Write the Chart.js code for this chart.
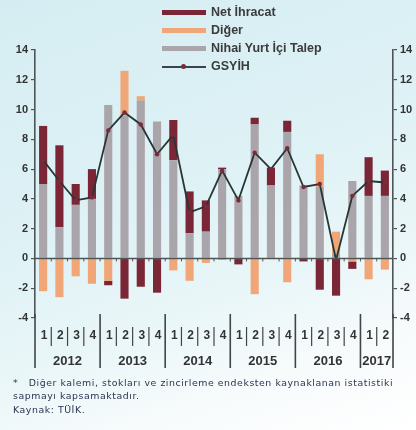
<!DOCTYPE html>
<html lang="tr">
<head>
<meta charset="utf-8">
<title>GSYİH büyümesine katkılar</title>
<script src="https://cdn.jsdelivr.net/npm/chart.js@4.4.1/dist/chart.umd.min.js"></script>
<style>
  html, body { margin: 0; padding: 0; }
  body {
    width: 416px; height: 430px; overflow: hidden; position: relative;
    background: linear-gradient(160deg, #d5edf2 0%, #dff2f6 45%, #e9f6f8 65%, #f7fbfc 82%, #ffffff 100%);
    font-family: "Liberation Sans", Arial, sans-serif;
  }
  #wrap { position: absolute; left: 0; top: 0; width: 416px; height: 430px; }
  .legend { position: absolute; left: 162px; top: 4px; }
  .legend .row { position: relative; height: 18px; }
  .legend .sw { position: absolute; left: 0; top: 6px; width: 44px; height: 5px; }
  .legend .ln { position: absolute; left: 0; top: 8px; width: 44px; height: 1.5px; background: #3a4646; }
  .legend .dot { position: absolute; left: 19px; top: 6px; width: 5px; height: 5px; border-radius: 50%; background: #7c2a3a; }
  .legend .tx { position: absolute; left: 49px; top: 1px; white-space: nowrap;
    font: bold 12.5px "Liberation Sans", Arial, sans-serif; color: #3b3b3b; }
  .note { position: absolute; left: 13px; width: 400px; white-space: nowrap;
    font: 9.4px "DejaVu Sans", sans-serif; letter-spacing: 0.55px; color: #2b3550; }
</style>
</head>
<body>
<div id="wrap"><canvas id="c" width="416" height="430"></canvas></div>

<div class="legend">
  <div class="row"><div class="sw" style="background:#7b2636"></div><div class="tx">Net İhracat</div></div>
  <div class="row"><div class="sw" style="background:#f1a677"></div><div class="tx">Diğer</div></div>
  <div class="row"><div class="sw" style="background:#aaa5aa"></div><div class="tx">Nihai Yurt İçi Talep</div></div>
  <div class="row"><div class="ln"></div><div class="dot"></div><div class="tx">GSYİH</div></div>
</div>

<div class="note" style="top:377px">*&nbsp;&nbsp; Diğer kalemi, stokları ve zincirleme endeksten kaynaklanan istatistiki</div>
<div class="note" style="top:390px">sapmayı kapsamaktadır.</div>
<div class="note" style="top:404px">Kaynak: TÜİK.</div>

<script>
// Quarters 2012 Q1 – 2017 Q2
const quarters = ['1','2','3','4','1','2','3','4','1','2','3','4','1','2','3','4','1','2','3','4','1','2'];
const years = ['2012','2013','2014','2015','2016','2017'];
const yTicks = [-4, -2, 0, 2, 4, 6, 8, 10, 12, 14];

// Contributions to annual GDP growth, percentage points
const nihaiYurtIciTalep = [5.0, 2.1, 3.6, 4.0, 10.3, 9.6, 10.6, 9.2, 6.6, 1.7, 1.8, 6.0, 4.2, 9.0, 4.9, 8.5, 4.9, 4.8, 0.3, 5.2, 4.2, 4.2];
const diger            = [-2.2, -2.6, -1.2, -1.7, -1.5, 3.0, 0.3, 0.0, -0.8, -1.5, -0.3, -0.1, 0.0, -2.4, 0.0, -1.6, 0.0, 2.2, 1.5, -0.2, -1.4, -0.75];
const netIhracat       = [3.9, 5.5, 1.4, 2.0, -0.3, -2.7, -1.9, -2.3, 2.7, 2.8, 2.1, 0.1, -0.4, 0.45, 1.2, 0.75, -0.2, -2.1, -2.5, -0.5, 2.6, 1.7];
// Annual GDP growth, %
const gsyih            = [6.6, 5.2, 3.9, 4.1, 8.6, 9.8, 9.0, 7.0, 8.3, 3.1, 3.5, 5.9, 3.9, 7.1, 6.0, 7.4, 4.8, 5.0, -0.1, 4.2, 5.2, 5.1];

const INK = '#333333';
const AXIS = '#4d5557';

// Zero line, quarter / year labels and separators under the plot
const axisDecor = {
  id: 'axisDecor',
  afterDatasetsDraw(chart) {
    const ctx = chart.ctx;
    const xs = chart.scales.x;
    const ys = chart.scales.y;
    const y0 = ys.getPixelForValue(0);
    const bottom = chart.chartArea.bottom;
    const left = chart.chartArea.left, right = chart.chartArea.right;
    ctx.save();
    // zero line with small boundary ticks
    ctx.strokeStyle = AXIS;
    ctx.lineWidth = 1.4;
    ctx.beginPath(); ctx.moveTo(left, y0); ctx.lineTo(right, y0); ctx.stroke();
    ctx.lineWidth = 1;
    for (let i = 1; i < quarters.length; i++) {
      const bx = (xs.getPixelForValue(i - 1) + xs.getPixelForValue(i)) / 2;
      ctx.beginPath(); ctx.moveTo(bx, y0); ctx.lineTo(bx, y0 + 3); ctx.stroke();
    }
    // separators
    ctx.strokeStyle = '#3f4648';
    const longTop = bottom - 4, longBot = bottom + 50;
    const shortTop = bottom + 9, shortBot = bottom + 28;
    ctx.lineWidth = 1.6;
    [left, right].forEach(x => { ctx.beginPath(); ctx.moveTo(x, longTop); ctx.lineTo(x, longBot); ctx.stroke(); });
    for (let i = 1; i < quarters.length; i++) {
      const bx = (xs.getPixelForValue(i - 1) + xs.getPixelForValue(i)) / 2;
      ctx.beginPath();
      if (i % 4 === 0) { ctx.lineWidth = 1.6; ctx.moveTo(bx, longTop); ctx.lineTo(bx, longBot); }
      else { ctx.lineWidth = 1.2; ctx.moveTo(bx, shortTop); ctx.lineTo(bx, shortBot); }
      ctx.stroke();
    }
    // quarter labels
    ctx.fillStyle = INK;
    ctx.textAlign = 'center';
    ctx.textBaseline = 'middle';
    ctx.font = 'bold 12px "Liberation Sans", Arial, sans-serif';
    quarters.forEach((q, i) => ctx.fillText(q, xs.getPixelForValue(i) + 1, bottom + 18));
    // year labels
    ctx.font = 'bold 13px "Liberation Sans", Arial, sans-serif';
    years.forEach((yr, k) => {
      const first = k * 4, last = Math.min(first + 3, quarters.length - 1);
      const cx = (xs.getPixelForValue(first) + xs.getPixelForValue(last)) / 2;
      ctx.fillText(yr, cx, bottom + 43);
    });
    ctx.restore();
  }
};

const yScaleBase = (pos, width) => ({
  position: pos,
  min: -4, max: 14,
  afterFit(s) { s.width = width; },
  afterBuildTicks(s) { s.ticks = yTicks.map(v => ({ value: v })); },
  grid: { drawOnChartArea: false, drawTicks: true, tickLength: 4, color: AXIS, lineWidth: 1.2 },
  border: { display: true, color: AXIS, width: 1.6 },
  ticks: { padding: 3, color: INK, font: { family: '"Liberation Sans", Arial, sans-serif', size: 11, weight: 'bold' } }
});

new Chart(document.getElementById('c'), {
  data: {
    labels: quarters,
    datasets: [
      { type: 'line', label: 'GSYİH', data: gsyih, stack: 'gdp', order: 0,
        borderColor: '#283636', borderWidth: 1.8, tension: 0,
        pointRadius: 2.2, pointBackgroundColor: '#7c2a3a', pointBorderColor: '#7c2a3a', pointBorderWidth: 0 },
      { type: 'bar', label: 'Nihai Yurt İçi Talep', data: nihaiYurtIciTalep, stack: 'c', order: 1, backgroundColor: '#aaa5aa' },
      { type: 'bar', label: 'Diğer', data: diger, stack: 'c', order: 1, backgroundColor: '#f1a677' },
      { type: 'bar', label: 'Net İhracat', data: netIhracat, stack: 'c', order: 1, backgroundColor: '#7b2636' }
    ]
  },
  options: {
    responsive: false,
    animation: false,
    devicePixelRatio: 1,
    layout: { padding: { top: 50, left: 0, right: 0, bottom: 0 } },
    datasets: { bar: { barPercentage: 0.5, categoryPercentage: 1.0 } },
    plugins: { legend: { display: false }, tooltip: { enabled: false } },
    scales: {
      x: { stacked: true, offset: true,
           afterFit(s) { s.height = 112; },
           grid: { display: false }, border: { display: false }, ticks: { display: false } },
      y: Object.assign(yScaleBase('left', 35), { stacked: true }),
      y2: yScaleBase('right', 23)
    }
  },
  plugins: [axisDecor]
});
</script>
</body>
</html>
